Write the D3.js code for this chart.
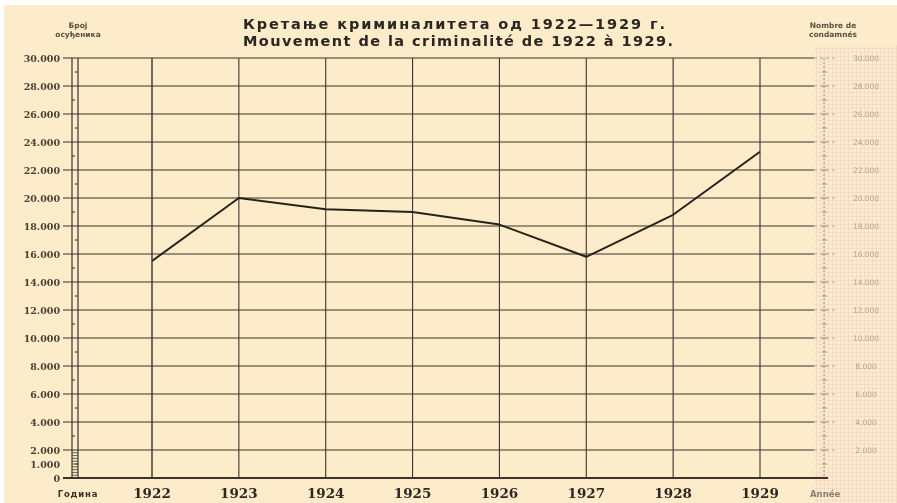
<!DOCTYPE html>
<html><head><meta charset="utf-8">
<script src="https://cdn.jsdelivr.net/npm/d3@7"></script>
<style>html,body{margin:0;padding:0;background:#fff;}svg{display:block;}</style>
</head><body>
<script>
const years = [1922, 1923, 1924, 1925, 1926, 1927, 1928, 1929];
const convicted = [15500, 20000, 19200, 19000, 18100, 15800, 18800, 23300];
const gridTicks = [2000, 4000, 6000, 8000, 10000, 12000, 14000, 16000, 18000, 20000, 22000, 24000, 26000, 28000, 30000];
const labelTicks = [0, 1000, 2000, 4000, 6000, 8000, 10000, 12000, 14000, 16000, 18000, 20000, 22000, 24000, 26000, 28000, 30000];
const titleLines = ["Кретање криминалитета од 1922—1929 г.", "Mouvement de la criminalité de 1922 à 1929."];
const leftAxisTitle = ["Број", "осуђеника"];
const rightAxisTitle = ["Nombre de", "condamnés"];
const xLabelLeft = "Година";
const xLabelRight = "Année";

const W = 897, H = 503;
const svg = d3.select("body").append("svg").attr("width", W).attr("height", H);

const defs = svg.append("defs");
const pat = defs.append("pattern").attr("id", "gp").attr("width", 4).attr("height", 4)
  .attr("patternUnits", "userSpaceOnUse");
pat.append("rect").attr("width", 4).attr("height", 4).attr("fill", "#fcebcf");
pat.append("path").attr("d", "M0,0.5H4M0.5,0V4").attr("stroke", "#f2d6bb").attr("stroke-width", 0.7);
const blur = defs.append("filter").attr("id", "bl");
blur.append("feGaussianBlur").attr("stdDeviation", 0.35);
const blur2 = defs.append("filter").attr("id", "bl2");
blur2.append("feGaussianBlur").attr("stdDeviation", 0.6);

// paper
svg.append("rect").attr("x", 4).attr("y", 5).attr("width", W - 4).attr("height", H - 5).attr("fill", "#fdecc9");
svg.append("rect").attr("x", 814).attr("y", 45).attr("width", W - 814).attr("height", H - 45).attr("fill", "url(#gp)");

const x = d3.scalePoint().domain(years).range([152, 760]);
const y = d3.scaleLinear().domain([0, 30000]).range([478, 58]);
const loc = d3.formatLocale({decimal: ",", thousands: ".", grouping: [3], currency: ["", ""]});
const fmt = loc.format(",");

const ink = "#3b352e";
const g = svg.append("g").attr("filter", "url(#bl)");

// horizontal grid
g.append("g").selectAll("line").data(gridTicks).join("line")
  .attr("x1", 63).attr("x2", 814)
  .attr("y1", d => y(d)).attr("y2", d => y(d))
  .attr("stroke", ink).attr("stroke-width", 1.2);
g.append("g").selectAll("line").data(gridTicks).join("line")
  .attr("x1", 814).attr("x2", 836)
  .attr("y1", d => y(d)).attr("y2", d => y(d))
  .attr("stroke", "#9a9080").attr("stroke-width", 0.8).attr("stroke-dasharray", "3,3");

// baseline
g.append("line").attr("x1", 63).attr("x2", 828).attr("y1", y(0)).attr("y2", y(0))
  .attr("stroke", ink).attr("stroke-width", 2);

// vertical grid
g.append("g").selectAll("line").data(years).join("line")
  .attr("x1", d => x(d)).attr("x2", d => x(d))
  .attr("y1", y(30000)).attr("y2", y(0))
  .attr("stroke", ink).attr("stroke-width", d => d === 1922 ? 1.4 : 1.1);

// left ruler
const ruler = g.append("g").attr("stroke", ink);
ruler.append("line").attr("x1", 72).attr("x2", 72).attr("y1", y(30000)).attr("y2", y(0)).attr("stroke-width", 1.2);
ruler.append("line").attr("x1", 78).attr("x2", 78).attr("y1", y(30000)).attr("y2", y(0)).attr("stroke-width", 1.2);
ruler.selectAll(".r1").data(d3.range(1000, 30000, 2000)).join("line")
  .attr("x1", (d, i) => i % 2 ? 72 : 75).attr("x2", (d, i) => i % 2 ? 75 : 78)
  .attr("y1", d => y(d)).attr("y2", d => y(d)).attr("stroke-width", 1);
ruler.selectAll(".r2").data(d3.range(200, 2000, 200)).join("line")
  .attr("x1", 72).attr("x2", 78)
  .attr("y1", d => y(d)).attr("y2", d => y(d)).attr("stroke-width", 0.8);

// right ruler (faint)
const rr = g.append("g").attr("stroke", "#8a8174");
rr.append("line").attr("x1", 824).attr("x2", 824).attr("y1", y(30000)).attr("y2", y(0))
  .attr("stroke-width", 0.9).attr("stroke-dasharray", "2,2");
rr.selectAll("line.t").data(d3.range(1000, 30000, 1000)).join("line").attr("class", "t")
  .attr("x1", 822).attr("x2", 827).attr("y1", d => y(d)).attr("y2", d => y(d)).attr("stroke-width", 0.8);

// data line
g.append("path").datum(years.map((yr, i) => [yr, convicted[i]]))
  .attr("fill", "none").attr("stroke", "#26221e").attr("stroke-width", 2)
  .attr("stroke-linejoin", "round")
  .attr("d", d3.line().x(d => x(d[0])).y(d => y(d[1])));

// y labels left
const t = svg.append("g").attr("filter", "url(#bl)");
t.selectAll(".yl").data(labelTicks).join("text").attr("class", "yl")
  .attr("x", 60).attr("y", d => y(d) + 3.5).attr("text-anchor", "end")
  .attr("font-family", "DejaVu Serif").attr("font-weight", "bold").attr("font-size", 9.5)
  .attr("fill", "#4a4036").text(d => fmt(d));

// y labels right (faint)
svg.append("g").attr("filter", "url(#bl2)").selectAll(".yr").data(gridTicks).join("text").attr("class", "yr")
  .attr("x", 866).attr("y", d => y(d) + 3).attr("text-anchor", "middle")
  .attr("font-family", "DejaVu Sans").attr("font-size", 7.5)
  .attr("fill", "#8f877a").attr("opacity", 0.7).text(d => fmt(d));

// x labels
t.selectAll(".xl").data(years).join("text").attr("class", "xl")
  .attr("x", d => x(d)).attr("y", 498).attr("text-anchor", "middle")
  .attr("font-family", "DejaVu Serif").attr("font-weight", "bold").attr("font-size", 13.5)
  .attr("fill", "#2e2823").text(d => d);

t.append("text").attr("x", 78).attr("y", 497).attr("text-anchor", "middle")
  .attr("font-family", "DejaVu Sans").attr("font-weight", "bold").attr("font-size", 8.5)
  .attr("letter-spacing", 0.8).attr("fill", "#3a3028").text(xLabelLeft);
t.append("text").attr("x", 810).attr("y", 497).attr("text-anchor", "start")
  .attr("font-family", "DejaVu Sans").attr("font-weight", "bold").attr("font-size", 8.5)
  .attr("fill", "#6d655a").attr("opacity", 0.8).text(xLabelRight);

// axis titles
t.selectAll(".lt").data(leftAxisTitle).join("text").attr("class", "lt")
  .attr("x", 78).attr("y", (d, i) => 28 + i * 9).attr("text-anchor", "middle")
  .attr("font-family", "DejaVu Sans").attr("font-weight", "bold").attr("font-size", 7.5)
  .attr("fill", "#5a4e42").text(d => d);
t.selectAll(".rt").data(rightAxisTitle).join("text").attr("class", "rt")
  .attr("x", 833).attr("y", (d, i) => 28 + i * 9).attr("text-anchor", "middle")
  .attr("font-family", "DejaVu Sans").attr("font-weight", "bold").attr("font-size", 7.5)
  .attr("fill", "#5a4e42").text(d => d);

// title
const tw = [422, 430];
t.selectAll(".ti").data(titleLines).join("text").attr("class", "ti")
  .attr("x", 243).attr("y", (d, i) => 29 + i * 17)
  .attr("textLength", (d, i) => tw[i]).attr("lengthAdjust", "spacing")
  .attr("font-family", "DejaVu Sans").attr("font-weight", "bold").attr("font-size", 14.5)
  .attr("fill", "#2b2520").text(d => d);
</script>
</body></html>
